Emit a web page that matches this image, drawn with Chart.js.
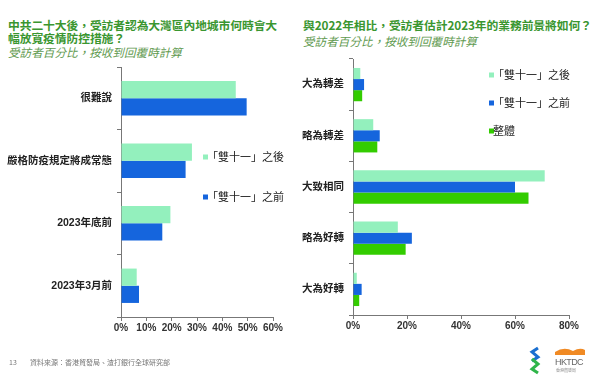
<!DOCTYPE html>
<html><head><meta charset="utf-8">
<script src="https://cdn.jsdelivr.net/npm/chart.js@4/dist/chart.umd.min.js"></script>
<style>
html,body{margin:0;padding:0;background:#fff;width:600px;height:385px;overflow:hidden;position:relative;font-family:"Noto Sans CJK TC","Liberation Sans",sans-serif;}
.t{position:absolute;white-space:nowrap;}
.title{color:#3a9630;font-weight:bold;font-size:11.8px;line-height:13px;letter-spacing:-0.1px;}
.sub{color:#5f9a50;font-style:italic;font-size:11.6px;}
canvas{position:absolute;top:0;}
</style></head><body>
<div class="t title" style="left:8px;top:18px;">中共二十大後，受訪者認為大灣區內地城市何時會大<br>幅放寬疫情防控措施？</div>
<div class="t sub" style="left:8px;top:44px;">受訪者百分比，按收到回覆時計算</div>
<div class="t title" style="left:303px;top:18px;">與2022年相比，受訪者估計2023年的業務前景將如何？</div>
<div class="t sub" style="left:303px;top:33px;">受訪者百分比，按收到回覆時計算</div>
<canvas id="c1" width="300" height="385" style="left:0"></canvas>
<canvas id="c2" width="300" height="385" style="left:300px"></canvas>
<div class="t" style="left:9px;top:357px;font-size:7px;color:#777;">13</div>
<div class="t" style="left:30px;top:357px;font-size:7px;color:#777;">資料來源：香港貿發局、渣打銀行全球研究部</div>
<svg style="position:absolute;left:528px;top:346px" width="60" height="30">
  <path d="M10 2 L4 6 L10 11 L4 15" stroke="#1a6fd0" stroke-width="3" fill="none"/>
  <path d="M4 13 L10 18 L4 23 L10 27" stroke="#2fb54a" stroke-width="3" fill="none"/>
  <path d="M27 6 Q36 0 45 5 Q52 1 57 4 L57 9 L27 9 Z" fill="#f08a24"/>
  <text x="27" y="19" font-family="Liberation Sans" font-size="9" fill="#666" letter-spacing="-0.6">HKTDC</text>
  <text x="28" y="26" font-family="Noto Sans CJK TC" font-size="4" fill="#888">香港貿發局</text>
</svg>
<script>
// Left chart data
const leftCats = ['很難說', '嚴格防疫規定將成常態', '2023年底前', '2023年3月前'];
const leftAfter = [45.3, 28, 19.5, 6.2];
const leftBefore = [49.6, 25.5, 16.3, 7.1];
const leftTicks = [0, 10, 20, 30, 40, 50, 60];
// Right chart data
const rightCats = ['大為轉差', '略為轉差', '大致相同', '略為好轉', '大為好轉'];
const rightAfter = [2.7, 7.5, 71, 16.6, 1.4];
const rightBefore = [4.1, 9.9, 60, 21.8, 3.2];
const rightOverall = [3.4, 9.0, 65, 19.5, 2.3];
const rightTicks = [0, 20, 40, 60, 80];
const seriesNames = ['「雙十一」之後', '「雙十一」之前', '整體'];

const cLight = '#93f0bd', cBlue = '#1565dd', cGreen = '#33cc00';
const tickFont = {family: '"Liberation Sans","Noto Sans CJK TC",sans-serif', size: 10, weight: 'bold'};

const legendPlugin = {
  id: 'innerLegend',
  afterDraw(chart, args, opts) {
    const ctx = chart.ctx;
    ctx.save();
    ctx.font = '11px "Noto Sans CJK TC","Liberation Sans",sans-serif';
    ctx.textBaseline = 'middle';
    chart.data.datasets.forEach((ds, i) => {
      const y = opts.y + i * opts.gap;
      ctx.fillStyle = ds.backgroundColor;
      ctx.fillRect(opts.x, y - 2.5, 5, 5);
      ctx.fillStyle = '#222';
      ctx.fillText(ds.label, opts.x + 4, y);
    });
    ctx.restore();
  }
};

function makeOpts(ticksArr, max, step, yWidth, pad, legend) {
  return {
    indexAxis: 'y',
    responsive: false,
    animation: false,
    layout: {padding: pad},
    plugins: {legend: {display: false}, tooltip: {enabled: false}, innerLegend: legend},
    scales: {
      x: {
        min: 0, max: max,
        afterBuildTicks: (s) => { s.ticks = ticksArr.map(v => ({value: v})); },
        afterFit: (s) => { s.height = 22; },
        grid: {drawOnChartArea: false, drawTicks: true, tickLength: 4, color: '#777'},
        border: {color: '#777'},
        ticks: {font: tickFont, color: '#333', padding: 1, maxRotation: 0, callback: v => v + '%'}
      },
      y: {
        afterFit: (s) => { s.width = yWidth; },
        grid: {drawOnChartArea: false, drawTicks: true, tickLength: 4, color: '#777', offset: true},
        border: {color: '#777'},
        ticks: {font: {family: '"Liberation Sans","Noto Sans CJK TC",sans-serif', size: 10.5, weight: 'bold'}, color: '#222', padding: 5}
      }
    }
  };
}

new Chart(document.getElementById('c1'), {
  type: 'bar',
  data: {
    labels: leftCats,
    datasets: [
      {label: seriesNames[0], data: leftAfter, backgroundColor: cLight, categoryPercentage: 0.55, barPercentage: 1.0},
      {label: seriesNames[1], data: leftBefore, backgroundColor: cBlue, categoryPercentage: 0.55, barPercentage: 1.0}
    ]
  },
  options: makeOpts(leftTicks, 60, 10, 121, {top: 67, right: 27, bottom: 46, left: 0}, {x: 203, y: 157, gap: 40}),
  plugins: [legendPlugin]
});

new Chart(document.getElementById('c2'), {
  type: 'bar',
  data: {
    labels: rightCats,
    datasets: [
      {label: seriesNames[0], data: rightAfter, backgroundColor: cLight, categoryPercentage: 0.65, barPercentage: 1.0},
      {label: seriesNames[1], data: rightBefore, backgroundColor: cBlue, categoryPercentage: 0.65, barPercentage: 1.0},
      {label: seriesNames[2], data: rightOverall, backgroundColor: cGreen, categoryPercentage: 0.65, barPercentage: 1.0}
    ]
  },
  options: makeOpts(rightTicks, 80, 20, 53, {top: 59, right: 31, bottom: 48, left: 0}, {x: 189, y: 75, gap: 28}),
  plugins: [legendPlugin]
});
</script>
</body></html>
